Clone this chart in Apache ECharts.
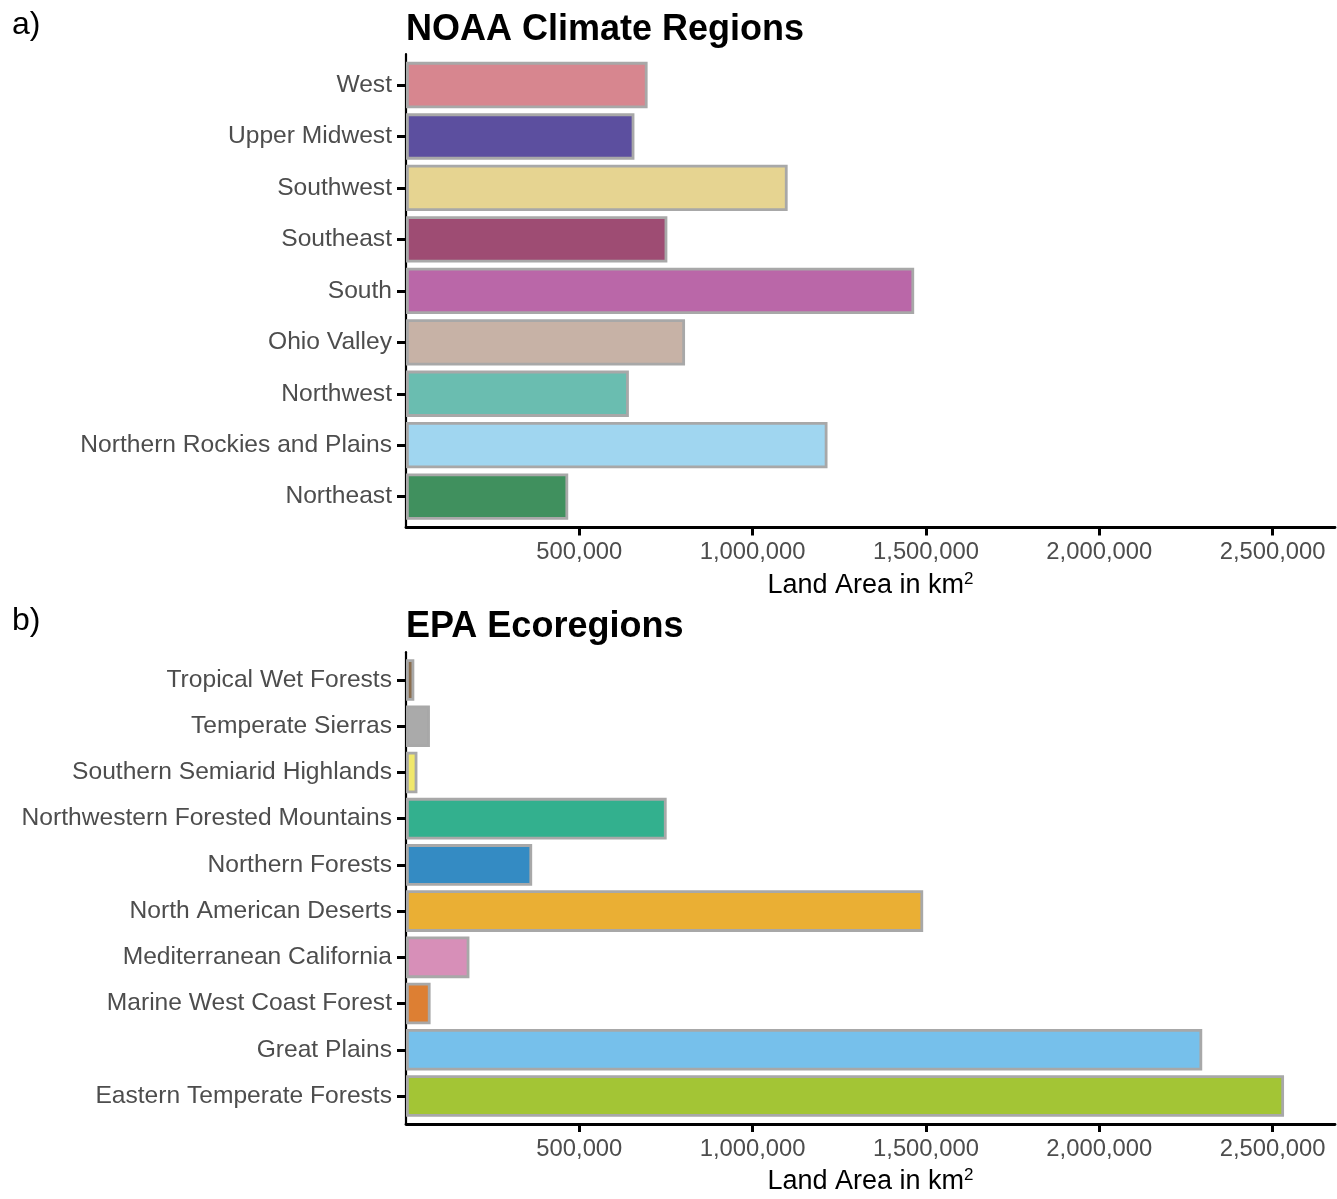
<!DOCTYPE html>
<html>
<head>
<meta charset="utf-8">
<script src="https://cdn.jsdelivr.net/npm/echarts@6/dist/echarts.min.js"></script>
<style>
html,body{margin:0;padding:0;background:#fff;}
#chart{width:1337px;height:1199px;}
</style>
</head>
<body>
<div id="chart"></div>
<script>
// ---- Data ----
const noaaCategories = ['West','Upper Midwest','Southwest','Southeast','South','Ohio Valley','Northwest','Northern Rockies and Plains','Northeast'];
const noaaValues = [697000, 659000, 1101000, 754000, 1466000, 805000, 643000, 1216000, 468000];
const noaaColors = ['#D7868F','#5C4F9F','#E6D491','#9E4C73','#BA67A8','#C7B2A6','#6ABDB0','#A0D6F0','#40905E'];

const epaCategories = ['Tropical Wet Forests','Temperate Sierras','Southern Semiarid Highlands','Northwestern Forested Mountains','Northern Forests','North American Deserts','Mediterranean California','Marine West Coast Forest','Great Plains','Eastern Temperate Forests'];
const epaValues = [24000, 69000, 33000, 752000, 364000, 1492000, 183000, 71000, 2297000, 2533000];
const epaColors = ['#8A6D4E','#AAAAAA','#F1E86B','#33B08E','#348BC3','#EAAF34','#D78FB8','#DD7F33','#76C0EB','#A3C535'];

const xTickValues = [500000, 1000000, 1500000, 2000000, 2500000];
const xMax = 2680000;

// ---- Layout ----
const FONT = "'Liberation Sans', Arial, Helvetica, sans-serif";
const LEFT = 406, RIGHT = 2;
const panelA = {top: 59.3, height: 463.1, frameTop: 54.1, frameBottom: 527.6};
const panelB = {top: 656.9, height: 462.2, frameTop: 652.2, frameBottom: 1124.0};

function fmt(v){ return v.toLocaleString('en-US'); }

function grids(p){
  return [
    {left: LEFT, right: RIGHT, top: p.top, height: p.height, containLabel: false, outerBoundsMode: 'none'},
    {left: LEFT, right: RIGHT, top: p.frameTop, height: p.frameBottom - p.frameTop, containLabel: false, outerBoundsMode: 'none'}
  ];
}

function barX(gi, p){
  return {
    type: 'value', gridIndex: gi, min: 0, max: xMax,
    offset: p.frameBottom - (p.top + p.height),
    axisLine: {show: false},
    splitLine: {show: false},
    axisTick: {show: true, length: 8, customValues: xTickValues, lineStyle: {color: '#000', width: 3}},
    axisLabel: {show: true, customValues: xTickValues, formatter: fmt, color: '#4D4D4D', fontSize: 23.8, fontFamily: FONT, margin: 13},
    name: 'Land Area in km{sup|2}',
    nameLocation: 'middle',
    nameGap: 43,
    nameTextStyle: {
      color: '#000', fontSize: 27, fontFamily: FONT, lineHeight: 30,
      rich: {sup: {fontSize: 17, fontFamily: FONT, color: '#000', verticalAlign: 'top', lineHeight: 30, padding: [0,0,18,0]}}
    }
  };
}
function frameX(gi){
  return {type: 'value', gridIndex: gi, min: 0, max: 1,
    axisLine: {show: true, onZero: false, lineStyle: {color: '#000', width: 2.8}},
    axisTick: {show: false}, axisLabel: {show: false}, splitLine: {show: false}};
}
function frameY(gi){
  return {type: 'value', gridIndex: gi, min: 0, max: 1,
    axisLine: {show: true, onZero: false, lineStyle: {color: '#000', width: 2.2}},
    axisTick: {show: false}, axisLabel: {show: false}, splitLine: {show: false}};
}
function barY(gi, cats){
  return {
    type: 'category', gridIndex: gi, data: cats, inverse: true,
    axisLine: {show: false},
    axisTick: {show: true, alignWithLabel: true, length: 9, lineStyle: {color: '#000', width: 3}},
    axisLabel: {color: '#4D4D4D', fontSize: 24.6, fontFamily: FONT, margin: 14},
    splitLine: {show: false}
  };
}
function barSeries(xi, yi, vals, colors){
  return {
    type: 'bar', xAxisIndex: xi, yAxisIndex: yi, barWidth: '90%',
    data: vals.map((v, i) => ({value: v, itemStyle: {color: colors[i]}})),
    itemStyle: {borderColor: '#A8A8A8', borderWidth: 2.8},
    emphasis: {disabled: true},
    animation: false
  };
}

const option = {
  backgroundColor: '#fff',
  animation: false,
  title: [
    {text: 'a)', left: 12, top: 9, padding: 0, textStyle: {fontSize: 32, fontWeight: 'normal', color: '#000', fontFamily: FONT}},
    {text: 'NOAA Climate Regions', left: 406, top: 12, padding: 0, textStyle: {fontSize: 36, fontWeight: 'bold', color: '#000', fontFamily: FONT}},
    {text: 'b)', left: 12, top: 605, padding: 0, textStyle: {fontSize: 32, fontWeight: 'normal', color: '#000', fontFamily: FONT}},
    {text: 'EPA Ecoregions', left: 406, top: 609, padding: 0, textStyle: {fontSize: 36, fontWeight: 'bold', color: '#000', fontFamily: FONT}}
  ],
  grid: [...grids(panelA), ...grids(panelB)],
  xAxis: [barX(0, panelA), frameX(1), barX(2, panelB), frameX(3)],
  yAxis: [barY(0, noaaCategories), frameY(1), barY(2, epaCategories), frameY(3)],
  series: [
    barSeries(0, 0, noaaValues, noaaColors),
    barSeries(2, 2, epaValues, epaColors)
  ]
};

const chart = echarts.init(document.getElementById('chart'), null, {renderer: 'canvas'});
chart.setOption(option);
</script>
</body>
</html>
